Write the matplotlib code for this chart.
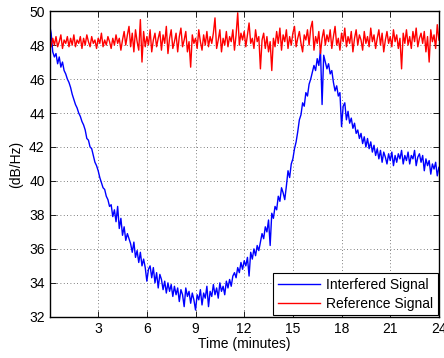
import numpy as np
import matplotlib
matplotlib.use("Agg")
import matplotlib.pyplot as plt

plt.rcParams['font.family'] = ['Liberation Sans', 'DejaVu Sans']
plt.rcParams['font.size'] = 10

# signal levels, one sample every 0.1 minute (0 .. 24)
interfered = [
    49.2, 48.7, 47.6, 47.3, 47.5, 46.9, 47.3, 46.7, 47.0, 46.5,
    46.3, 46.0, 45.8, 45.5, 45.1, 44.8, 44.5, 44.3, 44.0, 43.8,
    43.5, 43.3, 43.0, 42.5, 42.4, 42.0, 41.9, 41.5, 41.1, 40.9,
    40.6, 40.2, 39.9, 39.6, 39.5, 39.1, 38.9, 38.5, 38.6, 37.9,
    38.3, 37.6, 38.5, 37.2, 37.8, 36.8, 37.3, 36.5, 36.9, 36.6,
    36.3, 35.8, 36.4, 35.5, 35.9, 35.2, 35.8, 35.0, 35.4, 34.9,
    34.1, 34.8, 35.0, 34.3, 34.9, 34.0, 34.6, 33.7, 34.5, 34.2,
    33.6, 34.1, 33.4, 34.0, 33.5, 33.9, 33.2, 33.8, 33.3, 33.7,
    32.9, 33.6, 33.3, 32.6, 33.7, 33.2, 33.5, 32.8, 33.4, 33.0,
    32.4, 33.3, 33.0, 33.6, 32.7, 33.4, 33.1, 33.8, 32.6, 33.5,
    33.2, 33.9, 33.3, 33.7, 33.1, 34.0, 33.5, 33.8, 33.3, 34.1,
    33.7, 34.2, 33.8, 34.4, 34.6, 34.3, 34.9, 34.6, 35.2, 34.8,
    35.3, 35.0, 35.5, 34.4, 35.8, 35.4, 36.0, 35.6, 36.2, 35.9,
    36.4, 36.9, 36.6, 37.3, 37.0, 37.7, 36.2, 38.1, 37.8, 38.5,
    38.3, 39.1, 38.8, 39.6, 39.3, 38.9, 39.7, 40.6, 40.2, 41.0,
    41.3, 41.9, 42.3, 42.9, 43.6, 43.9, 44.6, 44.4, 45.2, 45.0,
    45.7, 46.0, 46.4, 46.8, 46.5, 47.2, 46.8, 47.7, 44.5, 47.4,
    47.0, 46.6, 46.9, 46.3, 46.5, 45.8, 45.3, 45.6, 45.0, 45.2,
    43.2, 44.4, 44.6, 43.6, 44.1, 43.4, 43.7, 43.1, 43.4, 42.8,
    43.0, 42.5, 42.8, 42.2, 42.6, 42.0, 42.5, 41.9, 42.3, 41.7,
    42.1, 41.5, 41.9, 41.3, 41.8, 41.1, 41.7, 41.4, 41.0, 41.6,
    41.2, 41.7, 40.9, 41.5, 41.1, 41.6, 41.3, 41.8, 41.0, 41.5,
    41.2, 41.7, 41.0, 41.5, 41.3, 41.8, 40.9, 41.4, 41.6, 41.1,
    41.5, 40.6, 41.3, 40.9, 41.2, 40.4, 41.0, 40.7, 41.1, 40.3,
    40.8,
]

reference = [
    48.3, 47.9, 48.4, 48.0, 48.5, 47.9, 48.2, 48.6, 47.8, 48.3,
    48.1, 48.5, 47.9, 48.4, 48.0, 48.6, 47.9, 48.3, 48.1, 48.5,
    47.8, 48.4, 48.0, 48.6, 48.2, 47.9, 48.5, 48.1, 48.3, 47.8,
    48.4, 48.1, 48.7, 47.9, 48.3, 48.0, 48.5, 48.2, 47.8, 48.4,
    48.0, 48.6, 48.1, 48.4, 47.7, 48.3, 48.8, 48.0, 48.6, 49.1,
    47.9, 48.7, 47.6, 48.9, 48.2, 47.7, 49.5, 47.0, 48.8, 47.9,
    48.5, 48.0, 48.9, 47.6, 48.3, 48.7, 47.9, 48.4, 48.8, 47.7,
    48.6, 48.1, 49.1, 47.5, 48.4, 48.9, 47.8, 48.2, 48.7, 47.6,
    48.5, 49.0, 47.9, 48.3, 48.8, 47.6, 48.2, 46.7, 48.6, 48.1,
    48.4, 47.8, 48.9, 48.2, 47.7, 48.6, 48.0, 48.8, 47.9, 48.5,
    48.1, 48.7, 49.6, 47.8, 48.3, 48.9, 47.6, 48.4, 48.0, 48.8,
    47.9, 48.5, 48.2, 48.9, 47.7, 48.6, 49.9, 48.0, 48.7, 48.3,
    48.8, 47.9, 48.6, 49.3, 48.1, 48.4, 47.8, 48.9, 48.2, 48.5,
    46.6, 48.3, 48.7, 47.8, 48.5, 47.6, 48.2, 46.5, 48.4, 47.9,
    48.8, 48.1, 49.0, 47.7, 48.6, 48.2, 48.9, 47.8, 48.5, 48.0,
    48.7, 49.1, 47.9, 48.4, 48.8, 48.1, 47.6, 48.6, 48.3, 48.9,
    48.0, 49.0, 49.4, 47.7, 48.5, 48.1, 48.8, 47.5, 48.4, 48.9,
    48.0, 48.6, 48.2, 48.9, 47.8, 48.5, 49.1, 48.0, 48.4, 47.7,
    48.7, 48.2, 49.0, 47.9, 48.5, 48.1, 48.8, 47.6, 48.4, 48.9,
    48.0, 48.6, 48.3, 47.7, 48.8, 48.1, 48.5, 47.9, 49.0, 48.2,
    48.6, 47.8, 48.4, 48.9, 48.0, 48.7, 47.6, 48.3, 48.8, 48.1,
    48.5, 47.9, 48.9, 48.2, 48.6, 47.8, 48.4, 46.6, 48.7, 48.1,
    48.9, 48.0, 48.5, 47.8, 48.8, 48.2, 49.0, 47.9, 48.4, 48.7,
    48.1, 48.8, 47.6, 48.5, 47.0, 48.9, 48.2, 48.6, 47.8, 49.2,
    48.3,
]

time_min = np.linspace(0, 24, len(interfered))
xticks = [3, 6, 9, 12, 15, 18, 21, 24]
yticks = list(range(32, 51, 2))

fig = plt.figure(figsize=(4.44, 3.58), dpi=100)
ax = fig.add_axes([0.1115, 0.115, 0.877, 0.854])

ax.plot(time_min, interfered, color='#0000ff', lw=1.0, label='Interfered Signal')
ax.plot(time_min, reference, color='#ff0000', lw=1.0, label='Reference Signal')

ax.set_xlim(0, 24)
ax.set_ylim(32, 50)
ax.set_xticks(xticks)
ax.set_yticks(yticks)
ax.grid(True, linestyle=(0, (1, 3)), color='#555555', lw=0.6)
ax.tick_params(direction='in', top=True, right=True, length=4, width=0.6)
for s in ax.spines.values():
    s.set_linewidth(1.0)

ax.set_xlabel('Time (minutes)', labelpad=1)
ax.set_ylabel('(dB/Hz)', labelpad=4)

leg = ax.legend(loc='lower right', fancybox=False, framealpha=1,
                edgecolor='black', borderaxespad=0.1, handlelength=3.0,
                borderpad=0.35, labelspacing=0.35, handletextpad=0.4)
leg.get_frame().set_linewidth(0.8)

fig.savefig('out.png', dpi=100)
